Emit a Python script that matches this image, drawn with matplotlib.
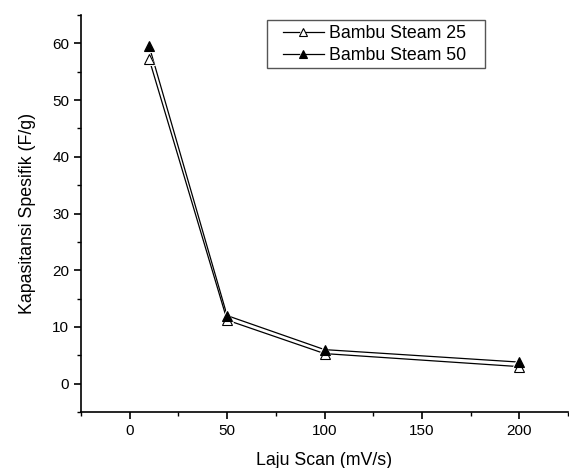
import matplotlib
matplotlib.use("Agg")
import matplotlib.pyplot as plt
from matplotlib.ticker import MultipleLocator
from matplotlib.patches import Rectangle

plt.rcParams['font.family'] = ['Liberation Sans', 'DejaVu Sans']

scan_rate = [10, 50, 100, 200]
steam25 = [57.2, 11.2, 5.3, 3.0]
steam50 = [59.5, 12.0, 6.0, 3.8]
labels = ['Bambu Steam 25', 'Bambu Steam 50']
fills = ['white', 'black']

W, H = 569, 468
fig = plt.figure(figsize=(W/100, H/100), dpi=100)
ax = fig.add_axes([81/W, 56/H, 487/W, 397/H])

handles = []
for ys, fc in zip([steam25, steam50], fills):
    ln, = ax.plot(scan_rate, ys, color='black', lw=0.9, zorder=2)
    gap, = ax.plot(scan_rate, ys, ls='none', marker='^', ms=10.5,
                   mfc='white', mec='white', mew=0, zorder=3)
    mk, = ax.plot(scan_rate, ys, ls='none', marker='^', ms=7,
                  mfc=fc, mec='black', mew=0.8, zorder=4)
    handles.append((ln, gap, mk))

ax.set_xlim(-25, 225)
ax.set_ylim(-5, 65)
ax.xaxis.set_major_locator(MultipleLocator(50))
ax.xaxis.set_minor_locator(MultipleLocator(25))
ax.yaxis.set_major_locator(MultipleLocator(10))
ax.yaxis.set_minor_locator(MultipleLocator(5))
ax.spines['top'].set_visible(False)
ax.spines['right'].set_visible(False)
for s in ('left', 'bottom'):
    ax.spines[s].set_linewidth(1.2)
ax.tick_params(which='major', direction='out', length=5, width=1.2, labelsize=11)
ax.tick_params(which='minor', direction='out', length=3, width=1.0)

ax.set_xlabel('Laju Scan (mV/s)', fontsize=12.8, labelpad=10)
ax.set_ylabel('Kapasitansi Spesifik (F/g)', fontsize=12.8, labelpad=12)

# legend frame drawn separately to mimic wider padding of the original
fig.patches.append(Rectangle((267/W, 1 - 68/H), (485-267)/W, 48/H,
                             transform=fig.transFigure, fill=False,
                             edgecolor='#555555', lw=1.0))
leg = ax.legend(handles, labels, loc='upper left', bbox_to_anchor=(283/W, 1 - 25/H),
                bbox_transform=fig.transFigure,
                fontsize=12.8, frameon=False, markerscale=0.75,
                handlelength=2.3, handletextpad=0.3, borderpad=0, labelspacing=0.3,
                borderaxespad=0)

fig.savefig('out.png', dpi=100)
